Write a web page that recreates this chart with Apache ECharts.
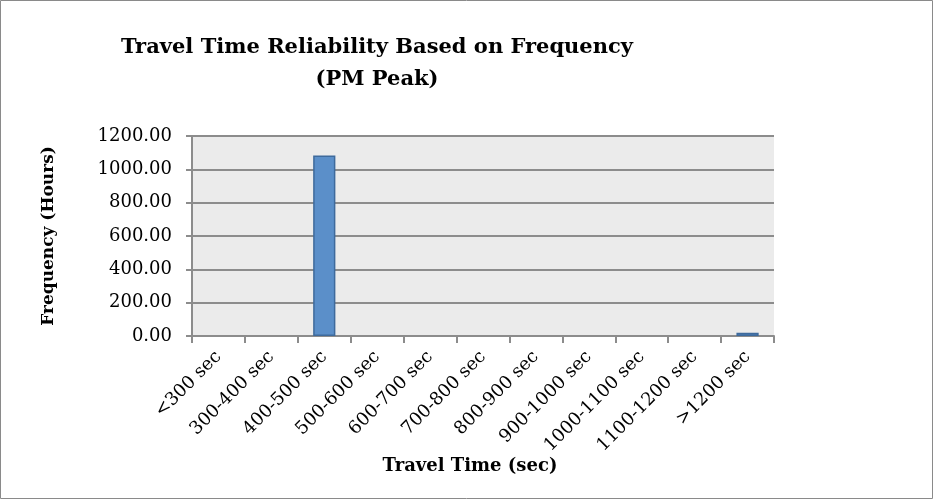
<!DOCTYPE html>
<html lang="en">
<head>
    <meta charset="UTF-8" />
    <title>Travel Time Reliability</title>
    <script src="https://cdn.jsdelivr.net/npm/echarts@6/dist/echarts.min.js"></script>
    <style>
        html, body { margin: 0; padding: 0; background: #fff; }
    </style>
</head>
<body>
    <div id="chart" style="width: 935px; height: 500px"></div>
    <script>
        // data
        var categories = ["<300 sec", "300-400 sec", "400-500 sec", "500-600 sec", "600-700 sec",
            "700-800 sec", "800-900 sec", "900-1000 sec", "1000-1100 sec", "1100-1200 sec", ">1200 sec"];
        var frequency = [0, 0, 1083, 0, 0, 0, 0, 0, 0, 0, 20];
        var yTicks = { min: 0, max: 1200, step: 200 };

        var serif = "'DejaVu Serif', 'Liberation Serif', serif";
        var chart = echarts.init(document.getElementById("chart"));

        var option = {
            backgroundColor: "#fff",
            animation: false,
            title: {
                text: "Travel Time Reliability Based on Frequency\n(PM Peak)",
                left: 372,
                top: 27,
                textAlign: "center",
                textStyle: { fontFamily: serif, fontSize: 21, fontWeight: "bold", color: "#000", lineHeight: 32 }
            },
            // thin frame round the whole chart
            graphic: [{
                type: "rect",
                shape: { x: 0.5, y: 0.5, width: 932, height: 498 },
                style: { fill: null, stroke: "#8a8a8a", lineWidth: 1 },
                silent: true
            }],
            grid: {
                left: 192, right: 161, top: 136, bottom: 164,
                show: true, backgroundColor: "#ebebeb", borderWidth: 0
            },
            xAxis: {
                type: "category",
                data: categories,
                name: "Travel Time (sec)",
                nameLocation: "middle",
                nameGap: 116,
                nameTextStyle: { fontFamily: serif, fontSize: 18, fontWeight: "bold", color: "#000", padding: [0, 26, 0, 0] },
                axisLine: { lineStyle: { color: "#8c8c8c", width: 2 } },
                axisTick: { show: true, length: 7, alignWithLabel: false, lineStyle: { color: "#8c8c8c", width: 2 } },
                axisLabel: { rotate: 45, interval: 0, margin: 18, fontFamily: serif, fontSize: 18, color: "#000" }
            },
            yAxis: {
                type: "value",
                min: yTicks.min,
                max: yTicks.max,
                interval: yTicks.step,
                name: "Frequency (Hours)",
                nameLocation: "middle",
                nameGap: 135,
                nameTextStyle: { fontFamily: serif, fontSize: 17, fontWeight: "bold", color: "#000" },
                axisLine: { show: true, lineStyle: { color: "#8c8c8c", width: 2 } },
                axisTick: { show: true, length: 6, lineStyle: { color: "#8c8c8c", width: 2 } },
                splitLine: { lineStyle: { color: "#8c8c8c", width: 2 } },
                axisLabel: {
                    margin: 20, fontFamily: serif, fontSize: 18, color: "#000",
                    formatter: function (v) { return v.toFixed(2); }
                }
            },
            series: [{
                type: "bar",
                // empty bins are left blank like in the original
                data: frequency.map(function (v) { return v === 0 ? "-" : v; }),
                barWidth: "42%",
                itemStyle: { color: "#5b8fc9", borderColor: "#3e6a9c", borderWidth: 1.5 }
            }]
        };

        chart.setOption(option);
    </script>
</body>
</html>
